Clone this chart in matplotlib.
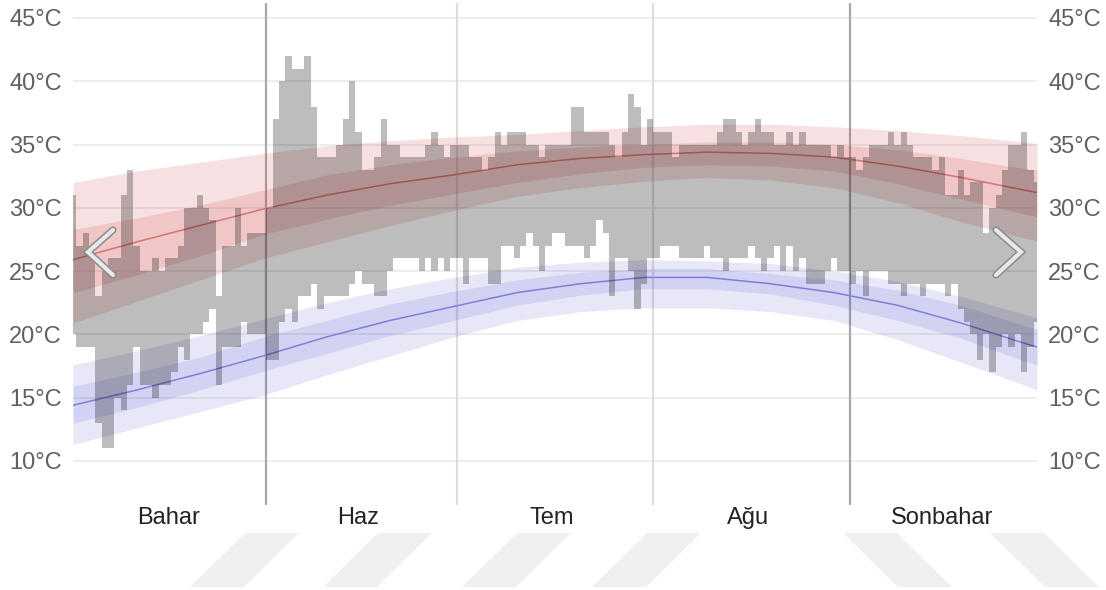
import numpy as np
import matplotlib
matplotlib.use("Agg")
import matplotlib.pyplot as plt
import matplotlib.transforms as mtransforms
from matplotlib.patches import Polygon
from matplotlib.lines import Line2D

plt.rcParams['font.family'] = ['Liberation Sans', 'DejaVu Sans']

# Daily observed high / low temperatures (°C), 1 May .. 30 Sep (day 0 = 1 May)
daily_high = [
    31, 27, 28, 26, 23, 25, 26, 26, 31, 33, 27, 25, 25, 26, 25, 26, 26, 27, 30, 30,
    31, 30, 29, 23, 27, 27, 30, 27, 28, 28, 28, 30, 37, 40, 42, 41, 41, 42, 38, 34,
    34, 34, 35, 37, 40, 36, 33, 33, 34, 37, 35, 35, 34, 34, 34, 34, 35, 36, 35, 34,
    35, 35, 35, 34, 34, 33, 34, 36, 35, 36, 36, 36, 35, 35, 34, 35, 35, 35, 35, 38,
    38, 36, 36, 36, 36, 35, 34, 36, 39, 38, 35, 37, 36, 36, 36, 34, 35, 35, 35, 35,
    35, 35, 36, 37, 37, 36, 35, 36, 37, 36, 36, 35, 35, 36, 35, 36, 35, 35, 35, 35,
    34, 35, 34, 34, 33, 34, 35, 35, 35, 36, 35, 36, 35, 34, 34, 34, 33, 34, 31, 31,
    33, 31, 32, 32, 28, 30, 31, 33, 35, 35, 36, 33, 32,
]
daily_low = [
    20, 19, 19, 19, 13, 11, 11, 15, 14, 16, 19, 16, 16, 15, 16, 16, 17, 19, 18, 20,
    20, 21, 22, 16, 19, 19, 19, 21, 20, 20, 20, 18, 18, 21, 22, 21, 23, 23, 24, 22,
    23, 23, 23, 23, 24, 25, 24, 24, 23, 23, 25, 26, 26, 26, 26, 25, 26, 25, 26, 25,
    26, 26, 24, 26, 26, 26, 24, 24, 27, 27, 26, 27, 28, 27, 25, 27, 28, 28, 27, 27,
    27, 26, 27, 29, 28, 23, 26, 26, 25, 22, 24, 26, 26, 27, 27, 27, 26, 26, 26, 26,
    27, 26, 26, 25, 26, 26, 26, 27, 26, 25, 26, 27, 25, 27, 25, 26, 24, 24, 24, 25,
    26, 25, 25, 24, 25, 23, 25, 25, 25, 24, 24, 23, 24, 24, 23, 24, 24, 24, 23, 24,
    22, 21, 20, 18, 20, 17, 19, 20, 19, 20, 17, 19, 21,
]
days = np.arange(len(daily_high))

# Climate normals, sampled every 10 days
normal_days = [0, 10, 20, 30, 40, 50, 60, 70, 80, 90, 100, 110, 120, 130, 140, 150, 152]
high_mean = [25.9, 27.3, 28.6, 29.9, 31.0, 31.9, 32.6, 33.4, 33.9, 34.2, 34.4, 34.3, 34.0, 33.3, 32.4, 31.4, 31.2]
high_p75 = [28.3, 29.2, 30.2, 31.4, 32.6, 33.4, 34.0, 34.5, 34.8, 35.0, 35.2, 35.2, 35.0, 34.6, 33.9, 33.1, 33.0]
high_p25 = [23.3, 24.7, 26.2, 27.9, 29.1, 30.2, 31.1, 32.0, 32.7, 33.2, 33.4, 33.3, 32.9, 31.9, 30.7, 29.5, 29.3]
high_p90 = [32.0, 32.9, 33.6, 34.3, 34.9, 35.3, 35.6, 35.8, 36.1, 36.4, 36.6, 36.6, 36.4, 36.1, 35.7, 35.2, 35.1]
high_p10 = [20.9, 22.6, 24.3, 26.0, 27.3, 28.6, 29.8, 30.9, 31.6, 32.1, 32.4, 32.2, 31.6, 30.4, 28.9, 27.6, 27.4]
low_mean = [14.4, 15.6, 16.9, 18.3, 19.8, 21.1, 22.2, 23.3, 24.0, 24.5, 24.5, 24.0, 23.3, 22.3, 20.9, 19.3, 19.0]
low_p75 = [15.9, 17.0, 18.2, 19.8, 21.1, 22.4, 23.4, 24.3, 24.9, 25.2, 25.2, 24.8, 24.3, 23.5, 22.3, 20.7, 20.4]
low_p25 = [13.0, 14.2, 15.6, 17.1, 18.5, 19.9, 21.1, 22.3, 23.1, 23.6, 23.6, 23.2, 22.3, 21.1, 19.7, 17.9, 17.6]
low_p90 = [17.6, 18.7, 19.9, 21.2, 22.5, 23.6, 24.5, 25.3, 25.7, 25.9, 25.8, 25.6, 25.0, 24.2, 23.0, 21.6, 21.3]
low_p10 = [11.3, 12.6, 13.9, 15.2, 16.8, 18.3, 19.8, 21.1, 21.8, 22.1, 22.1, 21.8, 21.1, 19.6, 17.8, 16.0, 15.6]

month_starts = [30.5, 60.5, 91.5, 122.5]          # 1 Jun, 1 Jul, 1 Aug, 1 Sep
month_start_strong = [True, False, False, True]   # season boundaries
month_labels = ["Bahar", "Haz", "Tem", "Ağu", "Sonbahar"]
month_label_pos = [15, 45, 75.5, 106.5, 137]
y_ticks = [10, 15, 20, 25, 30, 35, 40, 45]

W, H = 1106, 590
fig = plt.figure(figsize=(W / 100, H / 100), dpi=100)
fig.patch.set_facecolor('white')


def fx(px):
    return px / W


def fy(py):
    return 1 - py / H


# Decorative diagonal stripes along the bottom
stripes = [
    [(190, 587), (245, 533), (299, 533), (244, 587)],
    [(323, 587), (378, 533), (432, 533), (377, 587)],
    [(462, 587), (517, 533), (571, 533), (516, 587)],
    [(592, 587), (647, 533), (701, 533), (646, 587)],
    [(843, 533), (897, 533), (952, 587), (898, 587)],
    [(990, 533), (1044, 533), (1099, 587), (1045, 587)],
]
for poly in stripes:
    fig.patches.append(Polygon([(fx(x), fy(y)) for x, y in poly], closed=True,
                               transform=fig.transFigure, facecolor='#f0f0f0',
                               edgecolor='none', zorder=0))

ax = fig.add_axes([fx(73), 85 / H, 964 / W, 502 / H])
ax.set_xlim(0, 152)
ax.set_ylim(6.52, 46.18)
for s in ax.spines.values():
    s.set_visible(False)
ax.set_xticks([])

for t in y_ticks:
    ax.axhline(t, color='#ececec', lw=1.3, zorder=0)

for xs, strong in zip(month_starts, month_start_strong):
    ax.axvline(xs, color='#a8a8a8' if strong else '#dedede', lw=1.6, zorder=1)

red = (0.80, 0.16, 0.18)
blue = (0.24, 0.24, 0.78)
ax.fill_between(normal_days, high_p10, high_p90, color=red, alpha=0.14, lw=0, zorder=2)
ax.fill_between(normal_days, high_p25, high_p75, color=red, alpha=0.14, lw=0, zorder=2)
ax.fill_between(normal_days, low_p10, low_p90, color=blue, alpha=0.12, lw=0, zorder=2)
ax.fill_between(normal_days, low_p25, low_p75, color=blue, alpha=0.12, lw=0, zorder=2)
ax.plot(normal_days, high_mean, color='#d47474', lw=1.1, zorder=3)
ax.plot(normal_days, low_mean, color='#8080da', lw=1.1, zorder=3)

# Daily range as one stepped band (each day one unit wide)
ax.fill_between(days, daily_low, daily_high, step='mid', color='black',
                alpha=0.26, lw=0, zorder=4)

ax.set_yticks(y_ticks)
ax.set_yticklabels([f"{t}°C" for t in y_ticks])
ax.tick_params(axis='y', length=0, labelsize=17, labelcolor='#606060',
               left=False, right=False, labelleft=True, labelright=True, pad=8)

label_tr = mtransforms.blended_transform_factory(ax.transData, fig.transFigure)
for pos, lab in zip(month_label_pos, month_labels):
    ax.text(pos, fy(518), lab, transform=label_tr,
            ha='center', va='center', fontsize=17, color='#222222')

# Navigation chevrons
for pts in ([(113, 230), (88, 252), (113, 275)], [(996, 230), (1021, 252), (996, 275)]):
    xs = [fx(p[0]) for p in pts]
    ys = [fy(p[1]) for p in pts]
    fig.lines.append(Line2D(xs, ys, transform=fig.transFigure, color='#8c8c8c', lw=5.2,
                            solid_capstyle='round', solid_joinstyle='miter', zorder=10))
    fig.lines.append(Line2D(xs, ys, transform=fig.transFigure, color='#e8e8e8', lw=3.0,
                            solid_capstyle='round', solid_joinstyle='miter', zorder=11))

fig.savefig('out.png', dpi=100, facecolor='white')
